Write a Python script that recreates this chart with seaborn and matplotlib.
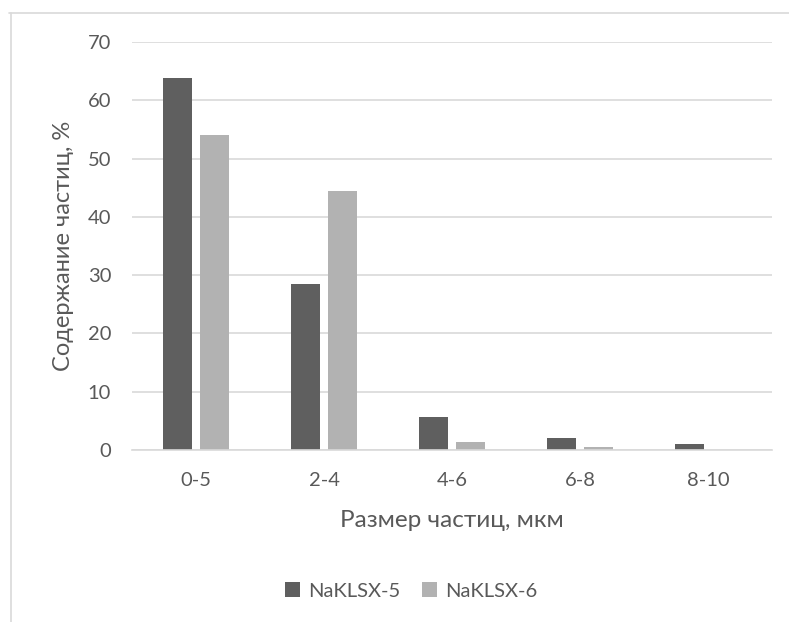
import matplotlib
matplotlib.use("Agg")
import matplotlib.pyplot as plt
from matplotlib.lines import Line2D
from matplotlib.patches import Patch
import seaborn as sns
import pandas as pd

categories = ["0-5", "2-4", "4-6", "6-8", "8-10"]
series_names = ["NaKLSX-5", "NaKLSX-6"]
naklsx5 = [63.8, 28.4, 5.7, 2.0, 1.0]
naklsx6 = [54.0, 44.5, 1.3, 0.5, 0.0]
yticks = [0, 10, 20, 30, 40, 50, 60, 70]
colors = ["#5f5f5f", "#b2b2b2"]
text_color = "#595959"

df = pd.DataFrame({
    "cat": categories * 2,
    "val": naklsx5 + naklsx6,
    "series": [series_names[0]] * 5 + [series_names[1]] * 5,
})

sns.set_style("white")
plt.rcParams["font.family"] = ["Lato", "DejaVu Sans"]

fig = plt.figure(figsize=(7.89, 6.22), dpi=100)
ax = fig.add_axes([132 / 789, 1 - 450 / 622, (772 - 132) / 789, (450 - 42) / 622])

sns.barplot(data=df, x="cat", y="val", hue="series", order=categories,
            hue_order=series_names, palette=colors, width=0.578, gap=0.216,
            ax=ax, legend=False, saturation=1, edgecolor="none", linewidth=0)

ax.set_ylim(0, 70)
ax.set_xlim(-0.5, len(categories) - 0.5)
ax.set_yticks(yticks)
ax.yaxis.grid(True, color="#d9d9d9", linewidth=1.2)
ax.set_axisbelow(True)
for s in ["top", "right", "left"]:
    ax.spines[s].set_visible(False)
ax.spines["bottom"].set_color("#d9d9d9")
ax.spines["bottom"].set_linewidth(1.2)
ax.tick_params(axis="y", length=0, pad=15, labelsize=14.5, labelcolor=text_color)
ax.tick_params(axis="x", length=0, pad=16, labelsize=14.5, labelcolor=text_color)
ax.set_xlabel("Размер частиц, мкм", fontsize=17.5, color=text_color, labelpad=15)
ax.set_ylabel("Содержание частиц, %", fontsize=17, color=text_color, labelpad=10)

handles = [Patch(facecolor=c, edgecolor="none") for c in colors]
fig.legend(handles, series_names, loc="center", bbox_to_anchor=(411 / 789, 1 - 591 / 622),
           ncol=2, frameon=False, fontsize=14.5, labelcolor=text_color,
           handlelength=0.75, handleheight=0.75, handletextpad=0.4, columnspacing=1.1)

# outer chart frame (top and left edges visible)
fig.add_artist(Line2D([9 / 789, 1], [1 - 13 / 622, 1 - 13 / 622], color="#d9d9d9", linewidth=1.2, transform=fig.transFigure))
fig.add_artist(Line2D([11 / 789, 11 / 789], [0, 1 - 13 / 622], color="#d9d9d9", linewidth=1.2, transform=fig.transFigure))

fig.savefig("out.png", dpi=100)
